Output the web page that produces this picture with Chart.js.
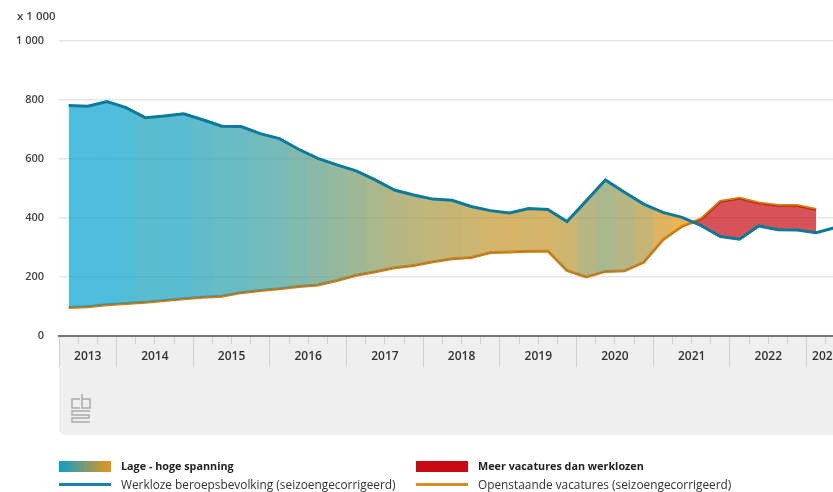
<!DOCTYPE html>
<html>
<head>
<meta charset="utf-8">
<title>Spanning op de arbeidsmarkt</title>
<script src="https://cdn.jsdelivr.net/npm/chart.js@4"></script>
<style>
  html, body { margin: 0; padding: 0; background: #fff; overflow: hidden; }
  #wrap { position: relative; width: 833px; height: 492px; overflow: hidden; font-family: "Open Sans", sans-serif; color: #333; }
  #wrap canvas { position: absolute; left: 0; top: 0; }
  .lab { position: absolute; font-size: 11.85px; line-height: 14px; white-space: nowrap; }
  .strong { font-weight: 700; font-size: 10.8px; color: #222; }
  .swatch { position: absolute; width: 52px; }
  #unit { position: absolute; left: 17px; top: 8px; font-size: 11.5px; font-weight: 600; color: #444; }
  #logo { position: absolute; left: 71px; top: 393px; }
</style>
</head>
<body>
<div id="wrap">
  <canvas id="chart" width="845" height="492"></canvas>
  <div id="unit">x 1 000</div>
  <svg id="logo" width="20" height="31" viewBox="0 0 20 31" fill="none" stroke="#aaa" stroke-width="1.5">
    <path d="M9 6H1v9h8"/>
    <path d="M11 1v14h8V6h-8"/>
    <path d="M19 18H1v4h17v3H1v4h18"/>
  </svg>
  <div class="swatch" style="left:59px;top:461px;height:11px;background:linear-gradient(90deg,#0d9fc9,#e8951a)"></div>
  <div class="lab strong" style="left:121px;top:459px">Lage - hoge spanning</div>
  <div class="swatch" style="left:59px;top:483px;height:3px;background:#1583a8"></div>
  <div class="lab" style="left:121px;top:477px">Werkloze beroepsbevolking (seizoengecorrigeerd)</div>
  <div class="swatch" style="left:416px;top:461px;height:11px;background:#c80a10"></div>
  <div class="lab strong" style="left:478px;top:459px">Meer vacatures dan werklozen</div>
  <div class="swatch" style="left:416px;top:483px;height:3px;background:#d68c28"></div>
  <div class="lab" style="left:478px;top:477px">Openstaande vacatures (seizoengecorrigeerd)</div>
</div>
<script>
const years = ["2013", "2014", "2015", "2016", "2017", "2018", "2019", "2020", "2021", "2022", "2023"];
// number of quarters shown per year, the series starts in Q2 2013
const quartersPerYear = [3, 4, 4, 4, 4, 4, 4, 4, 4, 4, 2];
const unemployed = [
  781, 779, 795, 774, 740, 746, 753, 733, 711, 710,
  686, 669, 633, 602, 580, 560, 529, 495, 478, 464,
  460, 439, 425, 417, 432, 429, 388, 458, 529, 487,
  447, 419, 402, 374, 337, 328, 373, 360, 359, 350,
  368
];
const vacancies = [
  97, 99, 106, 110, 114, 120, 126, 131, 135, 147,
  154, 160, 168, 173, 188, 206, 218, 231, 239, 252,
  262, 266, 283, 285, 287, 288, 222, 200, 219, 221,
  250, 326, 372, 397, 456, 467, 451, 442, 442, 429,
  null
];

const quarters = [];
const yearStarts = [];
const yearCenters = [];
let total = 0;
years.forEach((year, i) => {
  yearStarts.push(total);
  yearCenters.push(total + quartersPerYear[i] / 2);
  const first = i === 0 ? 2 : 1;
  for (let q = 0; q < quartersPerYear[i]; q++) {
    quarters.push(`${year} Q${first + q}`);
  }
  total += quartersPerYear[i];
});

const BLUE = [0, 161, 205];
const ORANGE = [243, 146, 0];
const MAX_GAP = 684;

// Hard-edged bands, one per quarter, coloured by the gap between both series
function spanningFill(context) {
  const chart = context.chart;
  const area = chart.chartArea;
  if (!area) return "rgba(0,161,205,0.7)";
  const gradient = chart.ctx.createLinearGradient(area.left, 0, area.right, 0);
  quarters.forEach((q, i) => {
    const gap = vacancies[i] === null ? 0 : Math.max(unemployed[i] - vacancies[i], 0);
    const t = Math.min(gap / MAX_GAP, 1);
    const r = Math.round(ORANGE[0] + (BLUE[0] - ORANGE[0]) * t);
    const g = Math.round(ORANGE[1] + (BLUE[1] - ORANGE[1]) * t);
    const b = Math.round(ORANGE[2] + (BLUE[2] - ORANGE[2]) * t);
    const color = `rgba(${r},${g},${b},0.7)`;
    gradient.addColorStop(i / quarters.length, color);
    gradient.addColorStop((i + 1) / quarters.length, color);
  });
  return gradient;
}

const panelPlugin = {
  id: "panel",
  beforeDraw(chart) {
    const { ctx, chartArea } = chart;
    ctx.save();
    ctx.fillStyle = "#efefef";
    ctx.beginPath();
    ctx.roundRect(chartArea.left, chartArea.bottom, chartArea.right - chartArea.left, 99, [0, 0, 0, 6]);
    ctx.fill();
    ctx.restore();
  },
  afterDraw(chart) {
    const { ctx, chartArea, scales } = chart;
    ctx.save();
    ctx.strokeStyle = "#d0d0d0";
    ctx.lineWidth = 1;
    yearStarts.forEach((start) => {
      const x = Math.floor(scales.years.getPixelForValue(start)) + 0.5;
      ctx.beginPath();
      ctx.moveTo(x, chartArea.bottom + 1);
      ctx.lineTo(x, chartArea.bottom + 31);
      ctx.stroke();
    });
    ctx.restore();
  },
};

new Chart(document.getElementById("chart").getContext("2d"), {
  type: "line",
  data: {
    labels: quarters,
    datasets: [
      {
        label: "Werkloze beroepsbevolking (seizoengecorrigeerd)",
        data: unemployed,
        borderColor: "#0b7a9b",
        borderWidth: 3,
        pointRadius: 0,
        tension: 0,
        fill: {
          target: 1,
          above: spanningFill,
          below: "rgba(200,10,16,0.7)",
        },
      },
      {
        label: "Openstaande vacatures (seizoengecorrigeerd)",
        data: vacancies,
        borderColor: "#c9811a",
        borderWidth: 3,
        pointRadius: 0,
        tension: 0,
        fill: false,
      },
    ],
  },
  plugins: [panelPlugin],
  options: {
    responsive: false,
    animation: false,
    layout: { padding: { top: 41, right: 0, bottom: 0, left: 0 } },
    plugins: { legend: { display: false }, tooltip: { enabled: false } },
    scales: {
      y: {
        min: 0,
        max: 1000,
        afterFit: (axis) => { axis.width = 59; },
        border: { display: false },
        grid: { color: "#e6e6e6", lineWidth: 1.5, drawTicks: false },
        ticks: {
          stepSize: 200,
          padding: 15,
          color: "#444",
          font: { family: "Open Sans", size: 11, weight: "600" },
          callback: (value) => (value === 1000 ? "1 000" : value),
        },
      },
      x: {
        type: "category",
        offset: true,
        afterFit: (axis) => { axis.height = 0; },
        border: { display: true, color: "#777", width: 2 },
        grid: {
          offset: true,
          drawOnChartArea: false,
          drawTicks: true,
          tickLength: 8,
          tickColor: "#d0d0d0",
        },
        ticks: { display: false, autoSkip: false },
      },
      years: {
        type: "linear",
        position: "bottom",
        min: 0,
        max: quarters.length,
        afterFit: (axis) => {
          axis.height = 156;
          axis.paddingLeft = 0;
          axis.paddingRight = 0;
        },
        afterBuildTicks: (axis) => {
          axis.ticks = yearCenters.map((value) => ({ value }));
        },
        border: { display: false },
        grid: { display: false, drawTicks: false },
        ticks: {
          padding: 13,
          maxRotation: 0,
          autoSkip: false,
          color: "#333",
          font: { family: "Open Sans", size: 12, weight: "600" },
          callback: (value) => years[yearCenters.indexOf(value)],
        },
      },
    },
  },
});
</script>
</body>
</html>
